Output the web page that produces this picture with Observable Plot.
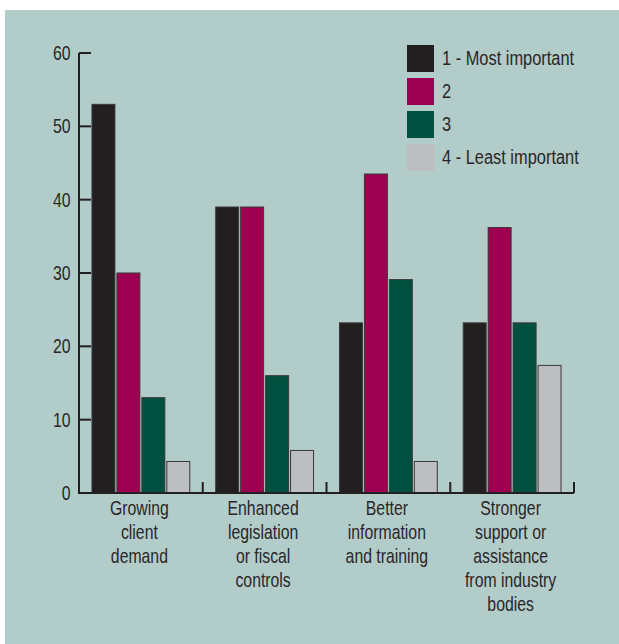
<!DOCTYPE html>
<html>
<head>
<meta charset="utf-8">
<script src="https://cdn.jsdelivr.net/npm/d3@7"></script>
<script src="https://cdn.jsdelivr.net/npm/@observablehq/plot@0.6"></script>
<style>
  body { margin: 0; background: #ffffff; }
  #panel {
    position: absolute; left: 5px; top: 10px; width: 614px; height: 634px;
    background: #b2ccc9;
    font-family: "Liberation Sans", Arial, sans-serif;
    color: #2a2627;
  }
  #legend { position: absolute; left: 402px; top: 35px; }
  .item { display: flex; align-items: center; height: 27px; margin-bottom: 6px; font-size: 20px; white-space: nowrap; }
  .sw { width: 27px; height: 27px; margin-right: 8px; flex: none; }
  .item span { display: inline-block; transform: scaleX(0.82); transform-origin: left center; }
</style>
</head>
<body>
<div id="panel"><div id="chart"></div><div id="legend"></div></div>
<script>
// Drivers of change, share of respondents ranking each factor (%)
const categories = [
  "Growing client demand",
  "Enhanced legislation or fiscal controls",
  "Better information and training",
  "Stronger support or assistance from industry bodies"
];
const categoryLabels = [
  "Growing\nclient\ndemand",
  "Enhanced\nlegislation\nor fiscal\ncontrols",
  "Better\ninformation\nand training",
  "Stronger\nsupport or\nassistance\nfrom industry\nbodies"
];
const ranks = ["1 - Most important", "2", "3", "4 - Least important"];
const rank1 = [53, 39, 23.2, 23.2];
const rank2 = [30, 39, 43.5, 36.2];
const rank3 = [13, 16, 29.1, 23.2];
const rank4 = [4.3, 5.8, 4.3, 17.4];
const colors = ["#231f20", "#9d0050", "#00503f", "#bcbec0"];
const yTicks = [0, 10, 20, 30, 40, 50, 60];

const series = [rank1, rank2, rank3, rank4];
const data = categories.flatMap((c, i) =>
  ranks.map((r, j) => ({ category: c, rank: r, value: series[j][i] }))
);

const fontFamily = '"Liberation Sans", Arial, sans-serif';
const narrow = 0.79; // horizontal squeeze for a condensed look

const plot = Plot.plot({
  width: 614,
  height: 634,
  marginLeft: 74,
  marginRight: 45,
  marginTop: 43,
  marginBottom: 151,
  style: { background: "transparent", fontFamily, color: "#2a2627" },
  fx: { domain: categories, padding: 0, round: false, label: null },
  x: { domain: ranks, paddingInner: 0.08, paddingOuter: 0.52, round: false, axis: null },
  y: { domain: [0, 60] },
  color: { domain: ranks, range: colors },
  marks: [
    Plot.barY(data, {
      fx: "category", x: "rank", y: "value", fill: "rank",
      stroke: "#3b3839", strokeWidth: 1
    }),
    Plot.axisY({ ticks: yTicks, tickSize: 0, tickPadding: 9, fontSize: 20, label: null }),
    Plot.axisFx({
      anchor: "bottom", tickSize: 0, tickPadding: 4, fontSize: 20, lineHeight: 1.2, dx: -2,
      tickFormat: (c) => categoryLabels[categories.indexOf(c)], label: null
    })
  ]
});
document.getElementById("chart").append(plot);

// Condense every label around its own anchor point
d3.select(plot).selectAll("text").each(function () {
  const t = this.getAttribute("transform");
  if (t) this.setAttribute("transform", `${t} scale(${narrow},1)`);
});

// Axis lines with inward value ticks and short separators between groups
const fx = plot.scale("fx");
const y = plot.scale("y");
const xStart = fx.range[0];
const xEnd = fx.range[1];
const step = fx.step ?? fx.bandwidth;
const yZero = y.apply(0);
const yTop = y.apply(d3.max(yTicks));
const g = d3.select(plot).append("g")
  .attr("stroke", "#231f20").attr("stroke-width", 2).attr("fill", "none");
g.append("path").attr("d", `M${xStart},${yTop}V${yZero}H${xEnd}`);
yTicks.forEach((t) => {
  g.append("line")
    .attr("x1", xStart).attr("x2", xStart + 12)
    .attr("y1", y.apply(t)).attr("y2", y.apply(t));
});
fx.domain.forEach((c) => {
  const xr = fx.apply(c) + step;
  g.append("line").attr("x1", xr).attr("x2", xr).attr("y1", yZero).attr("y2", yZero - 11);
});

// Legend
const legend = d3.select("#legend");
ranks.forEach((r, j) => {
  const item = legend.append("div").attr("class", "item");
  item.append("div").attr("class", "sw").style("background", colors[j]);
  item.append("span").text(r);
});
</script>
</body>
</html>
